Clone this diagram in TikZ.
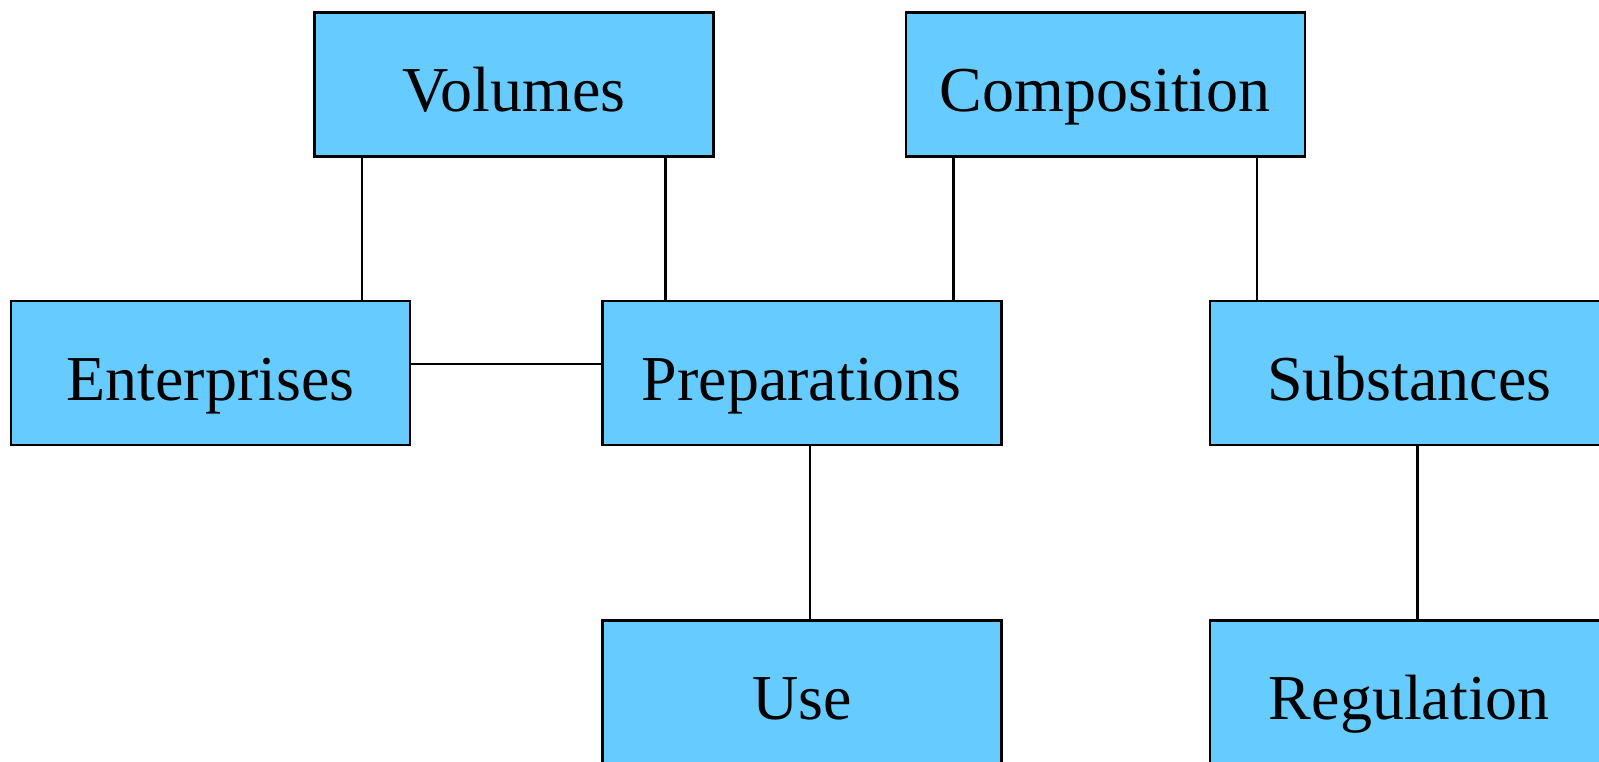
\documentclass[tikz,border=0pt]{standalone}
\usepackage{fontspec}
\setmainfont{Liberation Serif}
\usetikzlibrary{positioning}
\definecolor{boxblue}{HTML}{66CCFF}
\tikzset{
  entity/.style={rectangle, draw=black, fill=boxblue, line width=1.2pt,
    minimum width=199.5pt, minimum height=72pt, inner sep=0pt,
    text height=30pt, text depth=3pt,
    font=\fontsize{32}{38}\selectfont},
  link/.style={draw=black, line width=1.2pt}
}
\begin{document}
\begin{tikzpicture}
\useasboundingbox (0,0) rectangle (799.5pt,-380.5pt);
\node [entity] (ent) at (105.25pt,-186.5pt) {Enterprises};
\node [entity, right=95pt of ent] (prep) {Preparations};
\node [entity, right=103pt of prep] (subs) {Substances};
\node [entity, above right=71pt and -49pt of ent] (vol) {Volumes};
\node [entity, right=95pt of vol] (comp) {Composition};
\node [entity, below=86.5pt of prep] (use) {Use};
\node [entity, below=86.5pt of subs] (reg) {Regulation};
% links between the boxes
\draw [link] ([xshift=24.5pt]vol.south west) -- ([xshift=24.5pt]vol.south west |- ent.north);
\draw [link] ([xshift=-24.5pt]vol.south east) -- ([xshift=-24.5pt]vol.south east |- prep.north);
\draw [link] ([xshift=24.5pt]comp.south west) -- ([xshift=24.5pt]comp.south west |- prep.north);
\draw [link] ([xshift=-24.5pt]comp.south east) -- ([xshift=-24.5pt]comp.south east |- subs.north);
\draw [link] ([yshift=4.5pt]ent.east) -- ([yshift=4.5pt]ent.east -| prep.west);
\draw [link] ([xshift=4pt]prep.south) -- ([xshift=4pt]prep.south |- use.north);
\draw [link] ([xshift=4pt]subs.south) -- ([xshift=4pt]subs.south |- reg.north);
\end{tikzpicture}
\end{document}
